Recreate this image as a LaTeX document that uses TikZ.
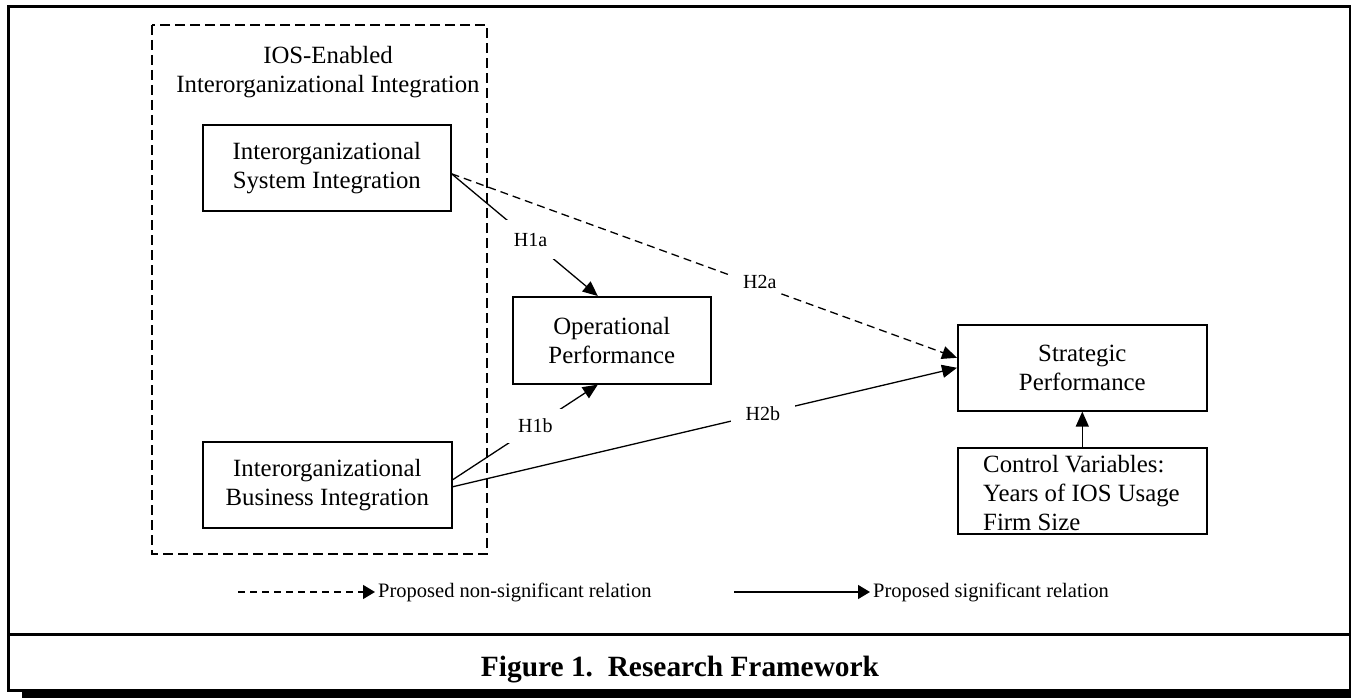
\documentclass[tikz,border=0pt]{standalone}
\usepackage{fontspec}
\setmainfont{Liberation Serif}
\usetikzlibrary{arrows.meta,calc}
\begin{document}
\begin{tikzpicture}[x=1pt,y=-1pt,
  box/.style={draw, line width=1.6pt, anchor=north west, align=center, inner sep=0pt,
    font=\fontsize{24.8}{29}\selectfont},
  bigtext/.style={align=center, inner sep=0pt, font=\fontsize{24.8}{29}\selectfont},
  lbl/.style={fill=white, inner ysep=10pt, font=\fontsize{20}{22}\selectfont},
  conn/.style={line width=1.3pt, -{Triangle[length=15pt,width=13pt]}},
  dconn/.style={conn, dash pattern=on 8pt off 5pt},
  legtext/.style={anchor=west, inner xsep=3pt, inner ysep=0pt, font=\fontsize{20.5}{22}\selectfont},
  legarrow/.style={line width=1.3pt, -{Triangle[length=12pt,width=14pt]}},
  frame/.style={line width=3pt}
]
\useasboundingbox (0,0) rectangle (1351,698);

% outer frame and caption area
\draw[frame] (8,6.5) rectangle (1350,690);
\draw[frame] (8,634) -- (1350,634);
\fill (22,689) rectangle (1351,698);
\node[anchor=base, inner sep=0pt, font=\bfseries\fontsize{29.4}{32}\selectfont] (caption) at (680,676) {Figure 1.\ \ Research Framework};

% dashed group box
\draw[line width=1.8pt, dash pattern=on 10pt off 5pt] (152,25) rectangle (487,554);
\node[bigtext, anchor=north] (title) at (328,46.5) {IOS-Enabled\\Interorganizational Integration};

% boxes
\node[box, minimum width=248pt, minimum height=86pt] (sys) at (202,124) {Interorganizational\\System Integration};
\node[box, minimum width=249pt, minimum height=86pt] (bus) at (202,441) {Interorganizational\\Business Integration};
\node[box, minimum width=198pt, minimum height=87pt] (op) at (512,296) {Operational\\Performance};
\node[box, minimum width=249pt, minimum height=86pt] (strat) at (957,324) {Strategic\\Performance};
\node[box, minimum width=249pt, minimum height=86pt] (ctrl) at (957,447) {};
\node[anchor=north west, align=left, inner sep=0pt, font=\fontsize{24.8}{29}\selectfont] (ctrltext) at (983,455) {Control Variables:\\Years of IOS Usage\\Firm Size};

% connectors
\draw[conn] ($(sys.east)+(0,6)$) -- node[lbl, pos=0.54, inner xsep=8pt, inner ysep=13pt] (h1a) {H1a} ($(op.north west)!0.43!(op.north east)$);
\draw[conn] ($(bus.east)+(0,-5)$) -- node[lbl, pos=0.57, inner xsep=12pt] (h1b) {H1b} ($(op.south west)!0.43!(op.south east)$);
\draw[dconn] ($(sys.east)+(0,6)$) -- node[lbl, pos=0.61, inner xsep=11pt, inner ysep=4pt, yshift=4pt] (h2a) {H2a} ($(strat.west)+(0,-10)$);
\draw[conn] ($(bus.east)+(0,2)$) -- node[lbl, pos=0.615, inner xsep=15pt, inner ysep=4pt] (h2b) {H2b} (strat.west);
\draw[conn] (ctrl.north) -- (strat.south);

% legend
\coordinate (l1s) at (238,592);
\node[legtext] (leg1) at (375,592) {Proposed non-significant relation};
\draw[legarrow, dash pattern=on 7pt off 5pt] (l1s) -- (leg1.west);
\coordinate (l2s) at (734,592);
\node[legtext] (leg2) at (870,592) {Proposed significant relation};
\draw[legarrow] (l2s) -- (leg2.west);
\end{tikzpicture}
\end{document}
